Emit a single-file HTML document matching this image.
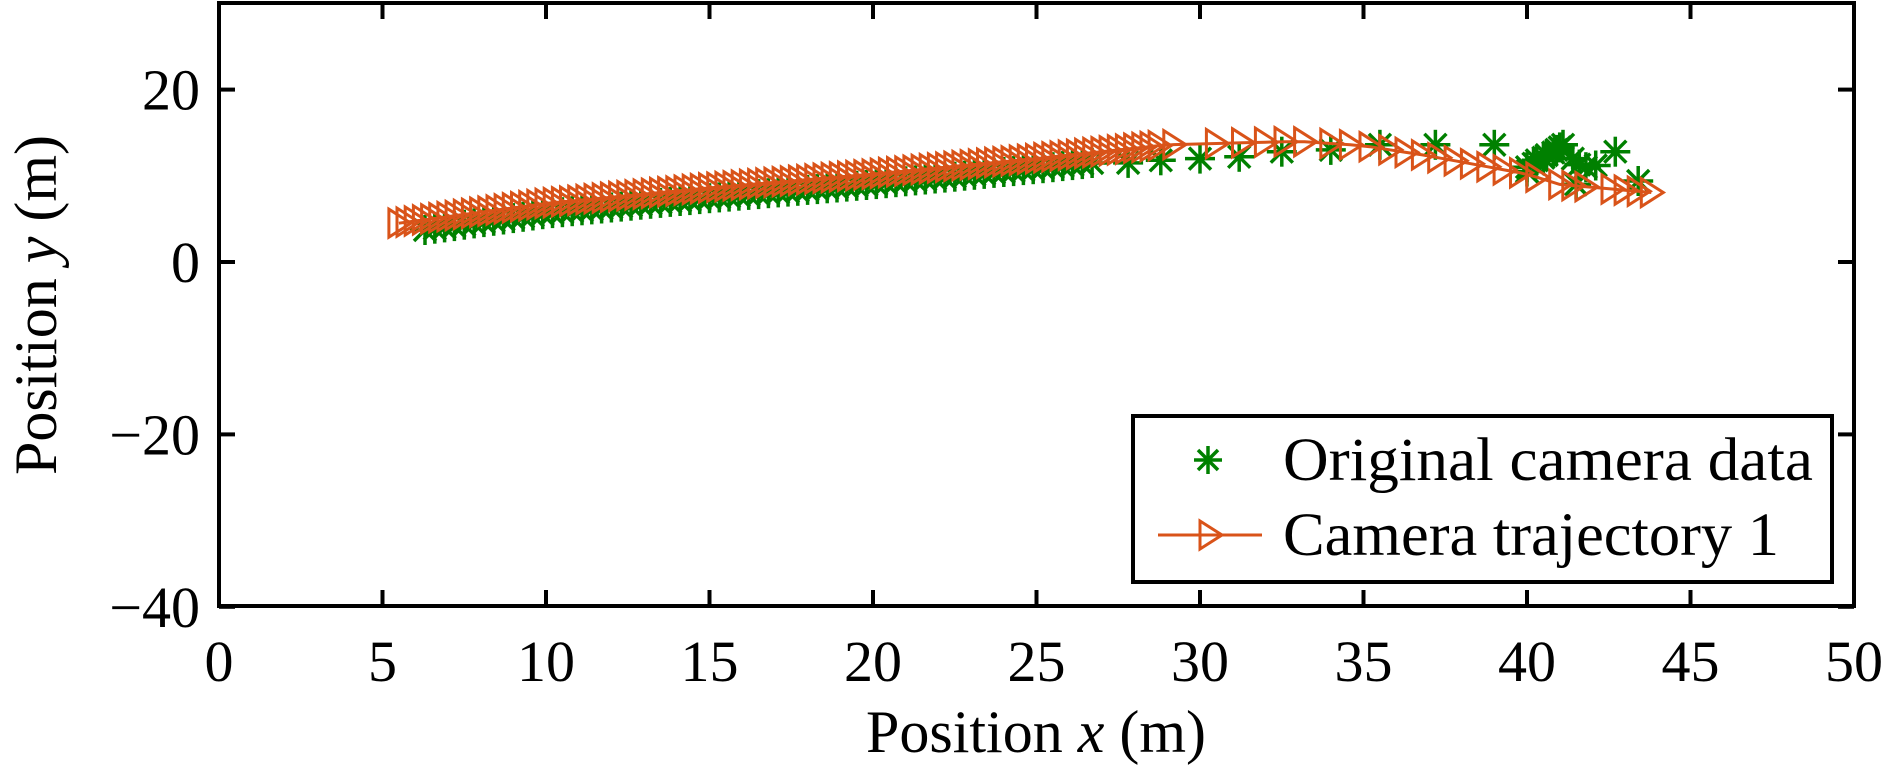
<!DOCTYPE html>
<html><head><meta charset="utf-8"><style>
html,body{margin:0;padding:0;background:#fff;}
svg text{font-family:"Liberation Serif",serif;fill:#000;}
</style></head><body>
<svg id="s" width="1890" height="778" viewBox="0 0 1890 778" xmlns="http://www.w3.org/2000/svg">
<g id="data"></g>
<rect x="219" y="3" width="1635" height="603" fill="none" stroke="#000" stroke-width="4"/>
<g id="ticks" stroke="#000" stroke-width="4"></g>
<g id="labels" font-size="58"></g>
<text x="1036" y="752" font-size="60" text-anchor="middle">Position <tspan font-style="italic">x</tspan> (m)</text>
<text transform="translate(56,305) rotate(-90)" font-size="60" text-anchor="middle">Position <tspan font-style="italic">y</tspan> (m)</text>
<rect x="1133" y="416" width="699" height="166" fill="#fff" stroke="#000" stroke-width="4"/>
<g stroke="#008000" stroke-width="3.5" transform="translate(1208,460)">
<line x1="-14" y1="0" x2="14" y2="0"/><line x1="0" y1="-14" x2="0" y2="14"/><line x1="-10" y1="-10" x2="10" y2="10"/><line x1="-10" y1="10" x2="10" y2="-10"/>
</g>
<line x1="1158" y1="535" x2="1262" y2="535" stroke="#d95319" stroke-width="3"/>
<path d="M1200,521 L1222,535 L1200,549 Z" fill="none" stroke="#d95319" stroke-width="3"/>
<text x="1283" y="480" font-size="61" textLength="530" lengthAdjust="spacingAndGlyphs">Original camera data</text>
<text x="1283" y="555" font-size="61" textLength="496" lengthAdjust="spacingAndGlyphs">Camera trajectory 1</text>
</svg>
<script>
var X=function(v){return 219+v*32.7;},Y=function(v){return 262-v*8.62;};
var t=document.getElementById('ticks'),l=document.getElementById('labels'),h='',lh='';
for(var i=0;i<=50;i+=5){var x=X(i);h+='<line x1="'+x+'" y1="606" x2="'+x+'" y2="590"/><line x1="'+x+'" y1="3" x2="'+x+'" y2="19"/>';lh+='<text x="'+x+'" y="681" text-anchor="middle">'+i+'</text>';}
[-40,-20,0,20].forEach(function(v){var y=Y(v);h+='<line x1="219" y1="'+y+'" x2="235" y2="'+y+'"/><line x1="1854" y1="'+y+'" x2="1838" y2="'+y+'"/>';lh+='<text x="200" y="'+(y+20)+'" text-anchor="end">'+(v<0?'\u2212'+(-v):v)+'</text>';});
t.innerHTML=h;l.innerHTML=lh;
function interp(pts,x){for(var i=0;i<pts.length-1;i++){if(x<=pts[i+1][0]){var a=pts[i],b=pts[i+1],f=(x-a[0])/(b[0]-a[0]);return a[1]+f*(b[1]-a[1]);}}return pts[pts.length-1][1];}
var tr=[[5.5,4.5],[10,6.8],[15,8.6],[20,10.2],[25,12],[29,13.6],[33,14],[35,13.5],[37,12.3],[40,10.2],[41,9],[44,8]];
var d='';var path='';var xs=[];
for(var x=5.5;x<29;x+=0.25)xs.push(x);
[29.2,30.5,31.3,32,32.6,33.2,34,34.6,35.2,35.8,36.3,36.8,37.3,37.8,38.3,38.8,39.3,39.8,40.3,41,41.4,41.8,42.6,43,43.4,43.8].forEach(function(v){xs.push(v)});
xs.forEach(function(x,i){var px=X(x),py=Y(interp(tr,x));path+=(i?'L':'M')+px.toFixed(1)+','+py.toFixed(1);});
var g=[];
for(var x=6.3;x<27;x+=0.3)g.push([x,interp(tr,x)-1.2]);
[[27.8,11.5],[28.8,11.8],[30,12],[31.2,12.2],[32.5,12.8],[34,13],[35.5,13.6],[37.2,13.6],[39,13.6],[40,11],[40.2,11.4],[40.3,11.8],[40.5,12.1],[40.6,12.4],[40.8,12.7],[40.9,13],[41,13.3],[41.1,13.6],[41.4,12],[41.6,11.3],[41.8,11],[42.1,11.2],[42.7,12.8],[43.4,9.4],[41.5,9],[40,10.5]].forEach(function(p){g.push(p)});
g.forEach(function(p){var px=X(p[0]),py=Y(p[1]);d+='<g transform="translate('+px.toFixed(1)+','+py.toFixed(1)+')" stroke="#008000" stroke-width="3.5"><line x1="-15" y1="0" x2="15" y2="0"/><line x1="0" y1="-15" x2="0" y2="15"/><line x1="-11" y1="-11" x2="11" y2="11"/><line x1="-11" y1="11" x2="11" y2="-11"/></g>';});
d+='<path d="'+path+'" fill="none" stroke="#d95319" stroke-width="3"/>';
xs.forEach(function(x){var px=X(x),py=Y(interp(tr,x));d+='<path d="M'+(px-10).toFixed(1)+','+(py-14).toFixed(1)+' L'+(px+12).toFixed(1)+','+py.toFixed(1)+' L'+(px-10).toFixed(1)+','+(py+14).toFixed(1)+' Z" fill="none" stroke="#d95319" stroke-width="3"/>';});
document.getElementById('data').innerHTML=d;
</script>
</body></html>
